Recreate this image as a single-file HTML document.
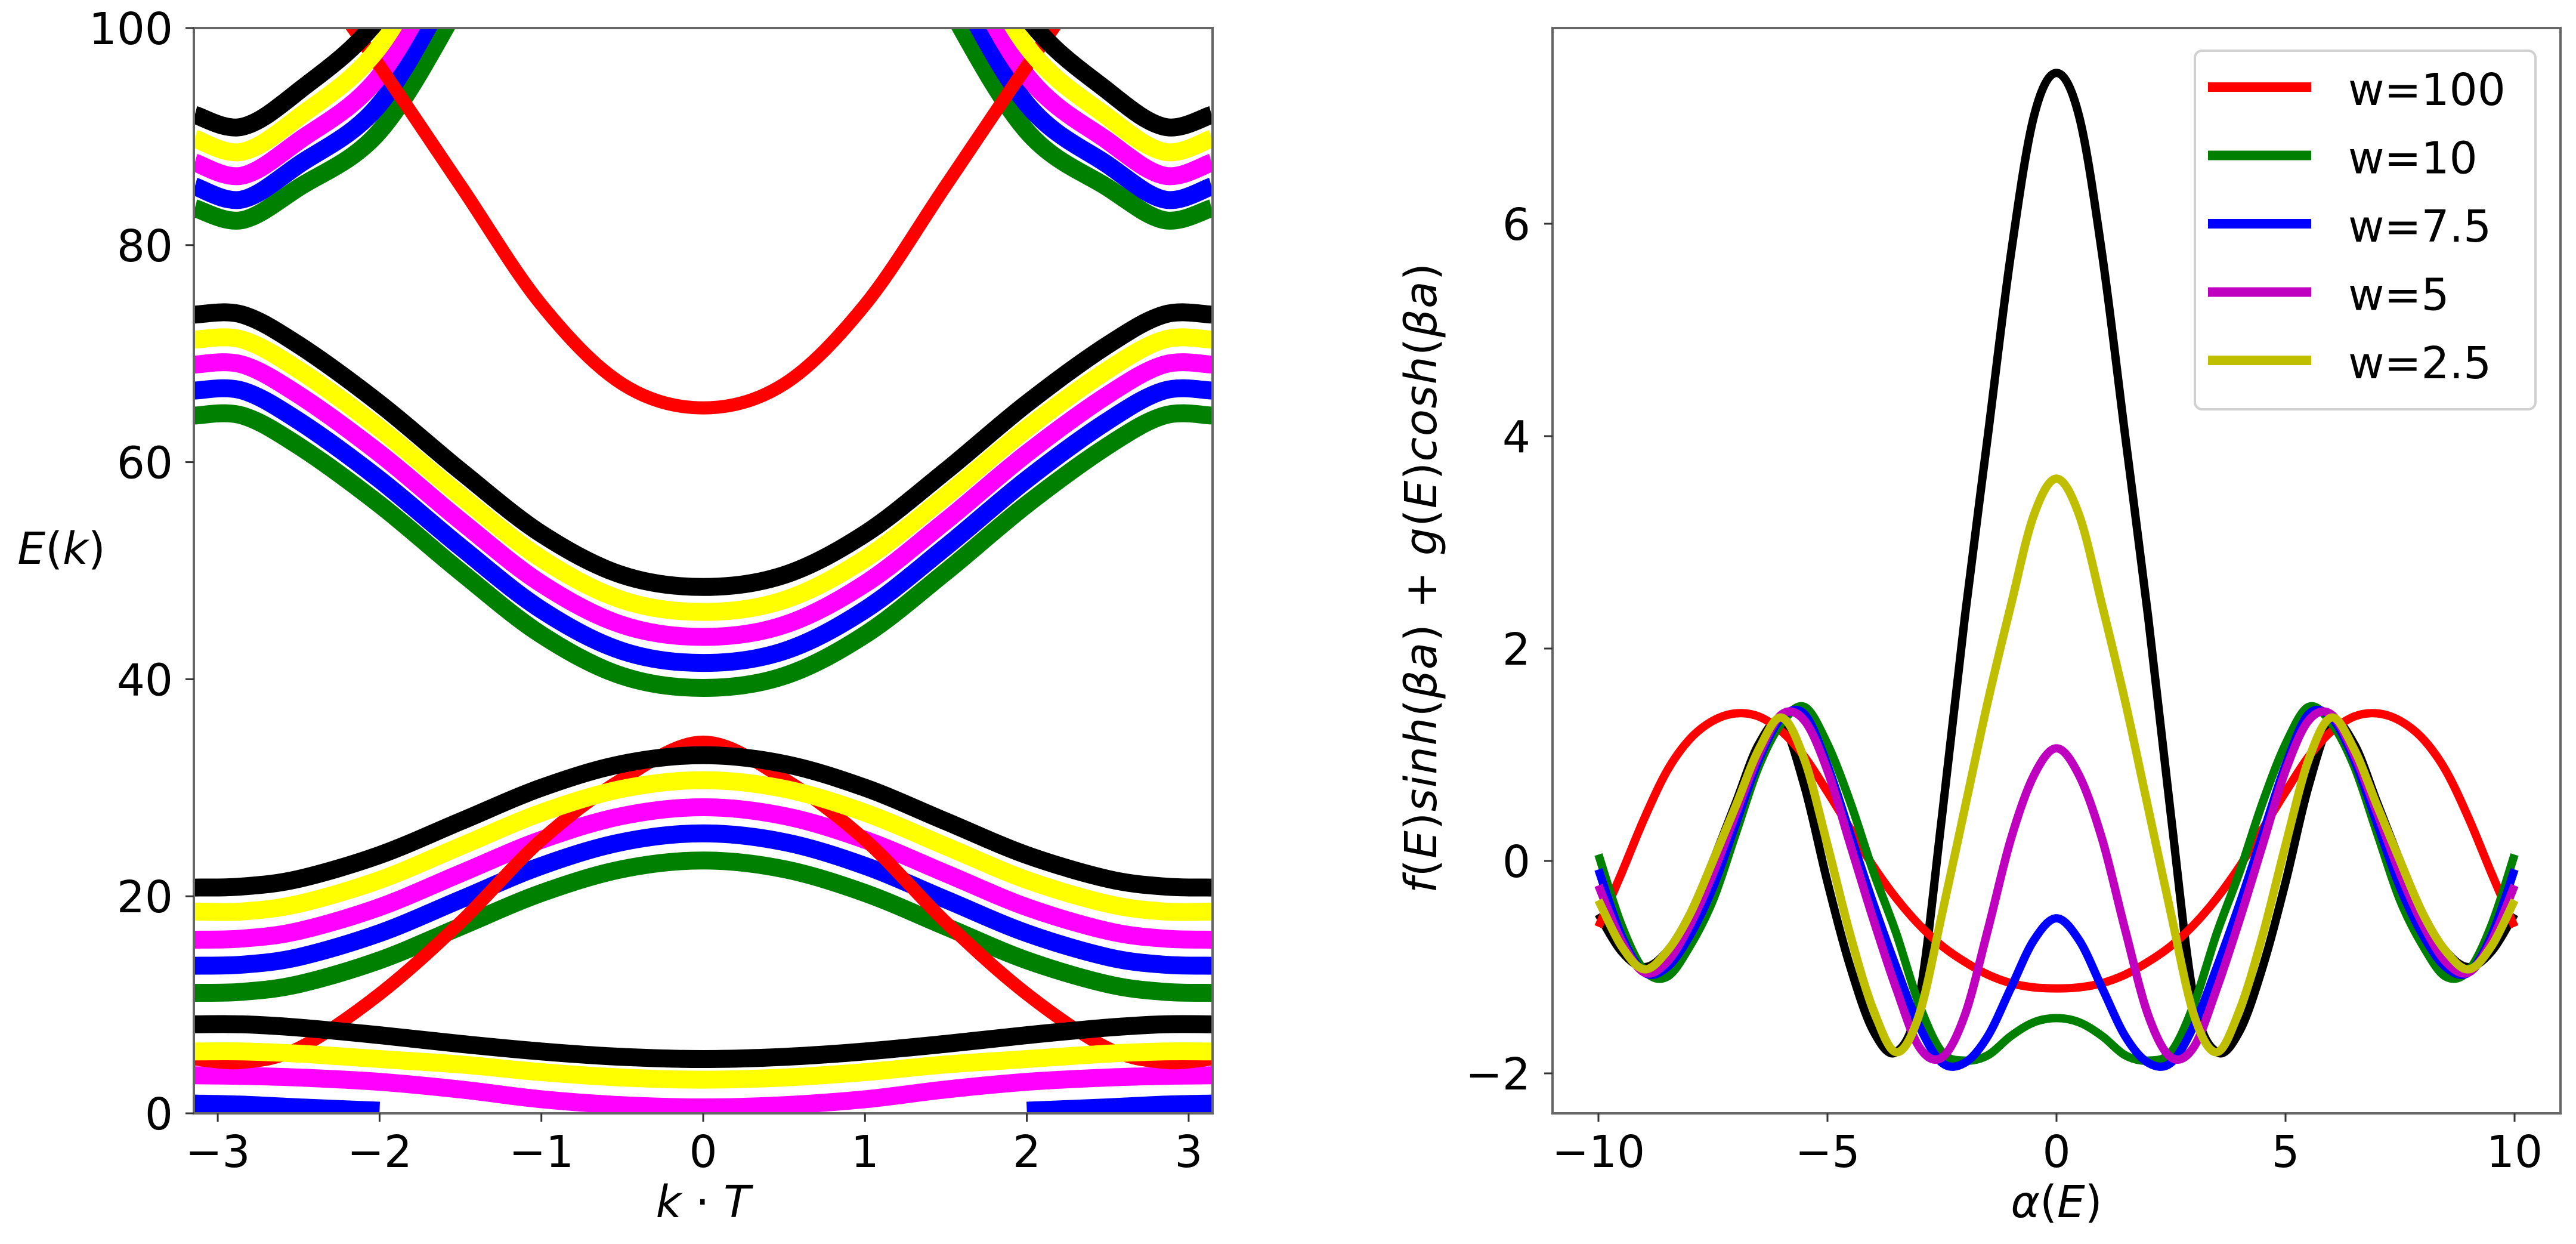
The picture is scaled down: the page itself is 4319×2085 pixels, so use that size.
<!DOCTYPE html>
<html><head><meta charset="utf-8"><style>
html,body{margin:0;padding:0;background:#fff;}
svg{display:block;font-family:"DejaVu Sans","Liberation Sans",sans-serif;}
</style></head><body>
<svg id="fig" width="4319" height="2085" viewBox="0 0 4319 2085" xmlns="http://www.w3.org/2000/svg">
<defs>
<clipPath id="clipL"><rect x="325" y="47" width="1708" height="1819"/></clipPath>
<clipPath id="clipR"><rect x="2603" y="47" width="1690" height="1819"/></clipPath>
</defs>
<rect x="0" y="0" width="4319" height="2085" fill="#fff"/>
<g id="left-plot">
<g id="left-lines" clip-path="url(#clipL)"></g>
<rect x="325" y="47" width="1708" height="1819" fill="none" stroke="#666" stroke-width="4"/>
<g id="left-ticks"></g>
<text x="103" y="945" font-size="74" text-anchor="middle"><tspan font-style="italic">E</tspan>(<tspan font-style="italic">k</tspan>)</text>
<text x="1179" y="2040" font-size="74" text-anchor="middle"><tspan font-style="italic">k</tspan> · <tspan font-style="italic">T</tspan></text>
</g>
<g id="right-plot">
<g id="right-lines" clip-path="url(#clipR)"></g>
<rect x="2603" y="47" width="1690" height="1819" fill="none" stroke="#666" stroke-width="4"/>
<g id="right-ticks"></g>
<text transform="translate(2408,969) rotate(-90)" font-size="74" text-anchor="middle" textLength="1056"><tspan font-style="italic">f</tspan>(<tspan font-style="italic">E</tspan>)<tspan font-style="italic">sinh</tspan>(<tspan font-style="italic">βa</tspan>) + <tspan font-style="italic">g</tspan>(<tspan font-style="italic">E</tspan>)<tspan font-style="italic">cosh</tspan>(<tspan font-style="italic">βa</tspan>)</text>
<text x="3448" y="2040" font-size="74" text-anchor="middle"><tspan font-style="italic">α</tspan>(<tspan font-style="italic">E</tspan>)</text>
<g id="legend">
<rect x="3680" y="85" width="571" height="601" rx="12" fill="#fff" fill-opacity="0.8" stroke="#d0d0d0" stroke-width="4"/>
</g>
</g>
</svg>
<script>
// ---------- left chart data (band structure) ----------
const kHalf = [0, 0.5, 1.0, 1.5, 2.0, 2.5, 2.85, 3.1416];
const blackBand1 = [5.0, 5.2, 5.7, 6.4, 7.2, 7.9, 8.2, 8.2];
const blackBand2 = [33, 32.2, 30.0, 26.9, 23.8, 21.6, 20.9, 20.8];
const blackBand3 = [48.5, 49.6, 53.4, 59.2, 65.4, 70.8, 73.6, 73.6];
const blackBand4 = [140, 135, 125, 114, 101, 94.2, 90.9, 92.0];
const yellowBand1 = [3.1, 3.3, 3.8, 4.5, 5.0, 5.5, 5.7, 5.7];
const yellowBand2 = [30.7, 29.9, 27.7, 24.6, 21.5, 19.3, 18.6, 18.6];
const yellowBand3 = [46.2, 47.3, 51.1, 56.9, 63.1, 68.5, 71.3, 71.3];
const yellowBand4 = [138, 133, 123, 111.5, 98.3, 91.8, 88.6, 89.8];
const magentaBand1 = [0.55, 0.75, 1.3, 2.2, 2.9, 3.3, 3.45, 3.5];
const magentaBand2 = [28.2, 27.4, 25.2, 22.1, 19.0, 16.8, 16.1, 16.0];
const magentaBand3 = [43.9, 45.0, 48.8, 54.6, 60.8, 66.2, 69.0, 69.0];
const magentaBand4 = [136, 131, 121, 108.5, 95.6, 89.6, 86.4, 87.6];
const blueBand1 = [null, null, null, null, 0.25, 0.55, 0.8, 0.9];
const blueBand2 = [25.8, 25.0, 22.8, 19.7, 16.6, 14.4, 13.7, 13.6];
const blueBand3 = [41.5, 42.6, 46.4, 52.2, 58.4, 63.8, 66.6, 66.6];
const blueBand4 = [134, 129, 119, 105.5, 93.0, 87.4, 84.2, 85.4];
const greenBand2 = [23.3, 22.5, 20.3, 17.2, 14.1, 11.9, 11.2, 11.1];
const greenBand3 = [39.2, 40.3, 44.1, 49.9, 56.1, 61.5, 64.3, 64.3];
const greenBand4 = [132, 127, 117, 102.5, 90.5, 85.3, 82.3, 83.4];
const redBand1 = [34.2, 30.8, 25.2, 17.6, 11.0, 6.0, 4.7, 5.0];
const redBand2 = [65, 67.2, 74.5, 85.5, 96.5, 107, 114, 117];
const leftXTicks = [-3, -2, -1, 0, 1, 2, 3];
const leftYTicks = [0, 20, 40, 60, 80, 100];

// ---------- right chart data ----------
const alphaHalf = [0,0.5,1,1.5,2,2.5,3,3.5,4,4.5,5,5.5,6,6.5,7,7.5,8,8.5,9,9.5,10];
const blackCurve = [7.42,7.0,5.7,4.0,2.3,0.42,-1.3,-1.8,-1.6,-1.0,-0.2,0.7,1.3,1.1,0.55,0.0,-0.5,-0.85,-1.0,-0.85,-0.5];
const redCurve = [-1.2,-1.19,-1.15,-1.07,-0.95,-0.8,-0.6,-0.35,-0.05,0.3,0.65,0.98,1.22,1.36,1.39,1.32,1.15,0.85,0.4,-0.12,-0.62];
const greenCurve = [-1.48,-1.52,-1.65,-1.83,-1.88,-1.8,-1.35,-0.68,-0.1,0.55,1.1,1.45,1.3,0.89,0.26,-0.37,-0.8,-1.09,-1.03,-0.6,0.06];
const blueCurve = [-0.54,-0.75,-1.2,-1.65,-1.9,-1.9,-1.55,-1.0,-0.4,0.25,0.9,1.38,1.35,0.95,0.35,-0.25,-0.7,-1.0,-1.05,-0.7,-0.08];
const magentaCurve = [1.06,0.8,0.2,-0.65,-1.45,-1.85,-1.75,-1.2,-0.55,0.15,0.85,1.32,1.38,1.0,0.45,-0.12,-0.6,-0.95,-1.05,-0.75,-0.23];
const yellowCurve = [3.6,3.25,2.4,1.5,0.5,-0.5,-1.45,-1.8,-1.4,-0.7,0.15,0.95,1.35,1.05,0.52,0.0,-0.5,-0.85,-1.02,-0.8,-0.37];
const legendLabels = ["w=100", "w=10", "w=7.5", "w=5", "w=2.5"];
const rightXTicks = [-10, -5, 0, 5, 10];
const rightYTicks = [-2, 0, 2, 4, 6];

const NS = "http://www.w3.org/2000/svg";
const xL = k => 1179 + k * 271.3;
const yL = e => 1866 - e * 18.19;
const xR = a => 3448 + a * 76.8;
const yR = v => 1443 - v * 178;
const fmt = n => (n < 0 ? "\u2212" + Math.abs(n) : String(n));

function mirror(xs, ys) {
  const X = [], Y = [];
  for (let i = xs.length - 1; i > 0; i--) { X.push(-xs[i]); Y.push(ys[i]); }
  for (let i = 0; i < xs.length; i++) { X.push(xs[i]); Y.push(ys[i]); }
  return [X, Y];
}
function splinePath(pts) {
  if (pts.length < 2) return "";
  let d = "M" + pts[0][0].toFixed(1) + "," + pts[0][1].toFixed(1);
  for (let i = 0; i < pts.length - 1; i++) {
    const p0 = pts[Math.max(0, i - 1)], p1 = pts[i], p2 = pts[i + 1], p3 = pts[Math.min(pts.length - 1, i + 2)];
    const c1x = p1[0] + (p2[0] - p0[0]) / 6, c1y = p1[1] + (p2[1] - p0[1]) / 6;
    const c2x = p2[0] - (p3[0] - p1[0]) / 6, c2y = p2[1] - (p3[1] - p1[1]) / 6;
    d += "C" + c1x.toFixed(1) + "," + c1y.toFixed(1) + " " + c2x.toFixed(1) + "," + c2y.toFixed(1) + " " + p2[0].toFixed(1) + "," + p2[1].toFixed(1);
  }
  return d;
}
function segments(X, Y, fx, fy) {
  const segs = []; let cur = [];
  for (let i = 0; i < X.length; i++) {
    if (Y[i] === null || Y[i] === undefined) { if (cur.length) segs.push(cur); cur = []; }
    else cur.push([fx(X[i]), fy(Y[i])]);
  }
  if (cur.length) segs.push(cur);
  return segs;
}
function drawSeries(parent, xs, ys, fx, fy, color, width, name) {
  const [X, Y] = mirror(xs, ys);
  const p = document.createElementNS(NS, "path");
  p.setAttribute("d", segments(X, Y, fx, fy).map(splinePath).join(" "));
  p.setAttribute("fill", "none");
  p.setAttribute("stroke", color);
  p.setAttribute("stroke-width", width);
  p.setAttribute("stroke-linejoin", "round");
  
  
  parent.appendChild(p);
}
function addText(parent, x, y, str, anchor, name) {
  const t = document.createElementNS(NS, "text");
  t.setAttribute("x", x); t.setAttribute("y", y);
  t.setAttribute("font-size", "74");
  t.setAttribute("text-anchor", anchor);
  t.textContent = str;
  
  
  parent.appendChild(t);
}
function addLine(parent, x1, y1, x2, y2, color, w, name) {
  const l = document.createElementNS(NS, "line");
  l.setAttribute("x1", x1); l.setAttribute("y1", y1); l.setAttribute("x2", x2); l.setAttribute("y2", y2);
  l.setAttribute("stroke", color); l.setAttribute("stroke-width", w);
  
  
  parent.appendChild(l);
}

// left lines
const LL = document.getElementById("left-lines");
const W = 30;
[[greenBand2,"green-band-2"],[greenBand3,"green-band-3"],[greenBand4,"green-band-4"]].forEach(b => drawSeries(LL, kHalf, b[0], xL, yL, "#008000", W, b[1]));
[[blueBand1,"blue-band-1"],[blueBand2,"blue-band-2"],[blueBand3,"blue-band-3"],[blueBand4,"blue-band-4"]].forEach(b => drawSeries(LL, kHalf, b[0], xL, yL, "#0000ff", W, b[1]));
[[magentaBand1,"magenta-band-1"],[magentaBand2,"magenta-band-2"],[magentaBand3,"magenta-band-3"],[magentaBand4,"magenta-band-4"]].forEach(b => drawSeries(LL, kHalf, b[0], xL, yL, "#ff00ff", W, b[1]));
[[redBand1,"red-band-1"],[redBand2,"red-band-2"]].forEach(b => drawSeries(LL, kHalf, b[0], xL, yL, "#ff0000", 22, b[1]));
[[yellowBand1,"yellow-band-1"],[yellowBand2,"yellow-band-2"],[yellowBand3,"yellow-band-3"],[yellowBand4,"yellow-band-4"]].forEach(b => drawSeries(LL, kHalf, b[0], xL, yL, "#ffff00", W, b[1]));
[[blackBand1,"black-band-1"],[blackBand2,"black-band-2"],[blackBand3,"black-band-3"],[blackBand4,"black-band-4"]].forEach(b => drawSeries(LL, kHalf, b[0], xL, yL, "#000000", W, b[1]));

// left ticks
const LT = document.getElementById("left-ticks");
leftXTicks.forEach(v => {
  addLine(LT, xL(v), 1866, xL(v), 1880, "#333", 3, "x-tick");
  addText(LT, xL(v), 1956, fmt(v), "middle", "x-tick-label");
});
leftYTicks.forEach(v => {
  addLine(LT, 311, yL(v), 325, yL(v), "#333", 3, "y-tick");
  addText(LT, 290, yL(v) + 27, fmt(v), "end", "y-tick-label");
});

// right lines
const RL = document.getElementById("right-lines");
drawSeries(RL, alphaHalf, blackCurve, xR, yR, "#000000", 14, "curve-black");
drawSeries(RL, alphaHalf, redCurve, xR, yR, "#ff0000", 14, "curve-w100");
drawSeries(RL, alphaHalf, greenCurve, xR, yR, "#008000", 14, "curve-w10");
drawSeries(RL, alphaHalf, blueCurve, xR, yR, "#0000ff", 14, "curve-w7-5");
drawSeries(RL, alphaHalf, magentaCurve, xR, yR, "#bf00bf", 14, "curve-w5");
drawSeries(RL, alphaHalf, yellowCurve, xR, yR, "#bfbf00", 14, "curve-w2-5");

// right ticks
const RT = document.getElementById("right-ticks");
rightXTicks.forEach(v => {
  addLine(RT, xR(v), 1866, xR(v), 1880, "#333", 3, "x-tick");
  addText(RT, xR(v), 1956, fmt(v), "middle", "x-tick-label");
});
rightYTicks.forEach(v => {
  addLine(RT, 2589, yR(v), 2603, yR(v), "#333", 3, "y-tick");
  addText(RT, 2566, yR(v) + 27, fmt(v), "end", "y-tick-label");
});

// legend
const LG = document.getElementById("legend");
const legendColors = ["#ff0000", "#008000", "#0000ff", "#bf00bf", "#bfbf00"];
legendLabels.forEach((lab, i) => {
  const y = 146 + i * 114.5;
  addLine(LG, 3702, y, 3875, y, legendColors[i], 16, "legend-entry-line");
  addText(LG, 3937, y + 30, lab, "start", "legend-entry-label");
});
</script>
</body></html>
